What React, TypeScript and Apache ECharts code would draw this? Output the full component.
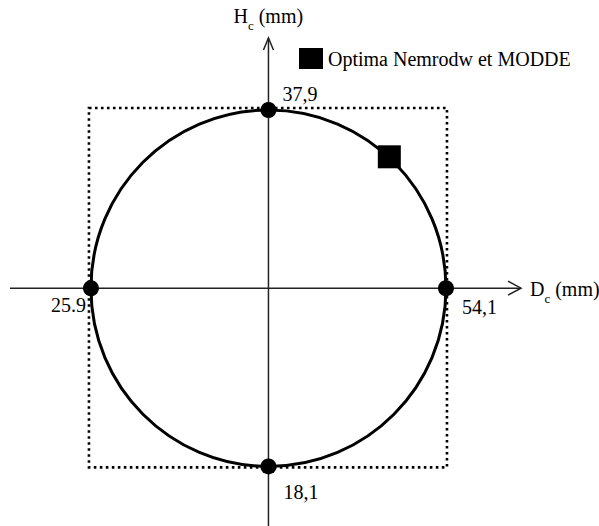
import React, { useEffect, useRef } from "react";
import * as echarts from "echarts";

// Design domain: diameter D_c and height H_c (mm)
const centre: [number, number] = [40, 28];
const pointX = [40, 25.9, 54.1, 40];
const pointY = [37.9, 28, 28, 18.1];
const pointLabels = ["37,9", "25.9", "54,1", "18,1"];
const optimumName = "Optima Nemrodw et MODDE";
const optimum: [number, number][] = [[49.6, 35.3]];

// visible axis extents
const xRange = [19.47, 60.06];
const yRange = [14.79, 41.9];

const FONT = "'Liberation Serif', 'Times New Roman', serif";

// label placement for each extreme point: [dx, dy, align]
const labelPlacement: [number, number, string][] = [
  [22, -8, "left"],
  [3, 25, "right"],
  [24, 27, "left"],
  [23, 34, "left"],
];

export default function App() {
  const ref = useRef<HTMLDivElement>(null);

  useEffect(() => {
    if (!ref.current) return;
    const chart = echarts.init(ref.current, null, { renderer: "svg" });

    const points = pointX.map((x, i) => ({
      value: [x, pointY[i]],
      label: {
        show: true,
        formatter: pointLabels[i],
        position: [labelPlacement[i][0], labelPlacement[i][1]],
        align: labelPlacement[i][2],
        verticalAlign: "middle",
        fontFamily: FONT,
        fontSize: 20,
        color: "#000",
        opacity: 1,
      },
    }));

    const option: any = {
      animation: false,
      backgroundColor: "#fff",
      grid: { left: 10, top: 38, width: 511, height: 488 },
      xAxis: {
        type: "value",
        min: xRange[0],
        max: xRange[1],
        show: false,
      },
      yAxis: {
        type: "value",
        min: yRange[0],
        max: yRange[1],
        show: false,
      },
      legend: {
        left: 294,
        top: 43,
        icon: "rect",
        itemWidth: 24,
        itemHeight: 21,
        data: [optimumName],
        itemStyle: { color: "#000", opacity: 1 },
        textStyle: { fontFamily: FONT, fontSize: 20, color: "#000" },
      },
      series: [
        {
          // axes, domain square and circle
          type: "custom",
          silent: true,
          z: 1,
          data: [centre],
          renderItem: (params: any, api: any) => {
            const c = api.coord([api.value(0), api.value(1)]);
            const left = api.coord([pointX[1], centre[1]]);
            const right = api.coord([pointX[2], centre[1]]);
            const top = api.coord([centre[0], pointY[0]]);
            const bottom = api.coord([centre[0], pointY[3]]);
            const xStart = api.coord([xRange[0], centre[1]]);
            const xEnd = api.coord([xRange[1], centre[1]]);
            const yStart = api.coord([centre[0], yRange[0]]);
            const yEnd = api.coord([centre[0], yRange[1]]);
            const axisStyle = { stroke: "#222", lineWidth: 1.5, fill: null };
            const rich = {
              m: { fontFamily: FONT, fontSize: 20, fill: "#000", lineHeight: 24 },
              s: {
                fontFamily: FONT,
                fontSize: 13,
                fill: "#000",
                lineHeight: 24,
                verticalAlign: "bottom",
                padding: [0, 0, -4, 0],
              },
            };
            return {
              type: "group",
              children: [
                {
                  type: "line",
                  shape: { x1: xStart[0], y1: xStart[1], x2: xEnd[0], y2: xEnd[1] },
                  style: axisStyle,
                },
                {
                  type: "polyline",
                  shape: {
                    points: [
                      [xEnd[0] - 13, xEnd[1] - 7],
                      [xEnd[0], xEnd[1]],
                      [xEnd[0] - 13, xEnd[1] + 7],
                    ],
                  },
                  style: axisStyle,
                },
                {
                  type: "line",
                  shape: { x1: yStart[0], y1: yStart[1], x2: yEnd[0], y2: yEnd[1] },
                  style: axisStyle,
                },
                {
                  type: "polyline",
                  shape: {
                    points: [
                      [yEnd[0] - 5, yEnd[1] + 12],
                      [yEnd[0], yEnd[1]],
                      [yEnd[0] + 5, yEnd[1] + 12],
                    ],
                  },
                  style: axisStyle,
                },
                {
                  type: "rect",
                  shape: {
                    x: left[0] - 2,
                    y: top[1] - 2,
                    width: right[0] - left[0] + 3,
                    height: bottom[1] - top[1] + 3,
                  },
                  style: {
                    fill: null,
                    stroke: "#000",
                    lineWidth: 2.6,
                    lineDash: [2.6, 3.4],
                  },
                },
                {
                  type: "ellipse",
                  shape: {
                    cx: c[0],
                    cy: c[1],
                    rx: (right[0] - left[0]) / 2,
                    ry: (bottom[1] - top[1]) / 2,
                  },
                  style: { fill: null, stroke: "#000", lineWidth: 3 },
                },
                {
                  type: "text",
                  x: xEnd[0] + 9,
                  y: xEnd[1] + 1,
                  style: {
                    text: "{m|D}{s|c}{m| (mm)}",
                    verticalAlign: "middle",
                    align: "left",
                    fill: "#000",
                    rich,
                  },
                },
                {
                  type: "text",
                  x: yEnd[0] - 35,
                  y: yEnd[1] - 22,
                  style: {
                    text: "{m|H}{s|c}{m| (mm)}",
                    verticalAlign: "middle",
                    align: "left",
                    fill: "#000",
                    rich,
                  },
                },
              ],
            };
          },
        },
        {
          type: "scatter",
          z: 3,
          symbol: "circle",
          symbolSize: 16,
          itemStyle: { color: "#000", opacity: 1 },
          data: points,
        },
        {
          name: optimumName,
          type: "scatter",
          z: 4,
          symbol: "rect",
          symbolSize: 23,
          itemStyle: { color: "#000", opacity: 1 },
          data: optimum,
        },
      ],
    };

    chart.setOption(option);
    return () => chart.dispose();
  }, []);

  return (
    <div
      ref={ref}
      style={{ position: "fixed", left: 0, top: 0, width: 599, height: 526 }}
    />
  );
}
